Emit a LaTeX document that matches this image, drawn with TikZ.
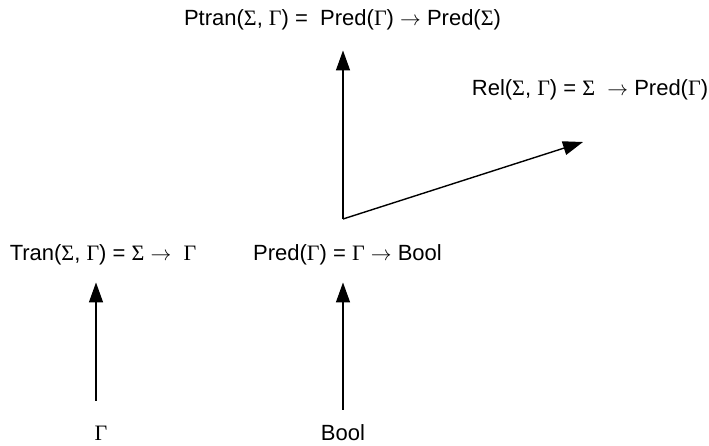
\documentclass[tikz,border=0pt]{standalone}
\usepackage{fontspec}
\setmainfont{Liberation Sans}
\newfontfamily\grkfont{Liberation Serif}
\usetikzlibrary{arrows.meta}
\newcommand{\Sg}{{\grkfont Σ}}
\newcommand{\Gm}{{\grkfont Γ}}
\newcommand{\To}{$\rightarrow$}

\begin{document}
\begin{tikzpicture}[x=1pt, y=-1pt,
            lbl/.style={inner sep=0pt, font=\fontsize{22}{26}\selectfont},
            arr/.style={-{Triangle[length=20pt, width=14pt]}, line width=1.4pt, black}
          ]
          \useasboundingbox (0,0) rectangle (709,445);
          \node[lbl]  (gam)   at (101,433)   {\Gm};
          \node[lbl]  (bool)  at (343,433)   {Bool};
          \node[lbl]  (tran)  at (103,255)   {Tran(\Sg, \Gm) = \Sg\ \To\ \ \Gm};
          \node[lbl]  (pred)  at (347.5,255) {Pred(\Gm) = \Gm\ \To\ Bool};
          \node[lbl]  (ptran) at (342.5,20)  {Ptran(\Sg, \Gm) =\ \ Pred(\Gm) \To\ Pred(\Sg)};
          \node[lbl]  (rel)   at (590,90)    {Rel(\Sg, \Gm) = \Sg\ \ \To\ Pred(\Gm)};
          \coordinate (corner) at (343,219);
          \coordinate (relend) at (583,142);

          \draw[arr] ([xshift=-5pt, yshift=25pt]gam.north) -- ([xshift=-7pt, yshift=-17pt]tran.south);
          \draw[arr] ([yshift=15pt]bool.north) -- ([xshift=-4.5pt, yshift=-17pt]pred.south);
          \draw[arr, shorten >=20pt] (corner) -- (corner |- ptran.south);
          \draw[arr] (corner) -- (relend);
        \end{tikzpicture}
\end{document}
